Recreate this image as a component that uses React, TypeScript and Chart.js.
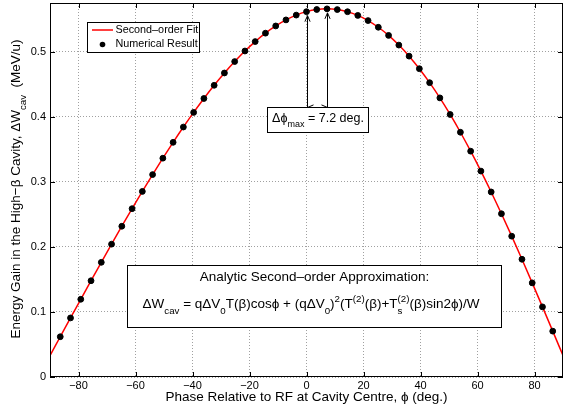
import React, { useEffect, useRef } from "react";
import { Chart, registerables } from "chart.js";

Chart.register(...registerables);

// ---------- data ----------
const phaseDeg = [
  -90, -86.4, -82.8, -79.2, -75.6, -72, -68.4, -64.8, -61.2, -57.6, -54, -50.4, -46.8,
  -43.2, -39.6, -36, -32.4, -28.8, -25.2, -21.6, -18, -14.4, -10.8, -7.2, -3.6, 0,
  3.6, 7.2, 10.8, 14.4, 18, 21.6, 25.2, 28.8, 32.4, 36, 39.6, 43.2, 46.8, 50.4, 54,
  57.6, 61.2, 64.8, 68.4, 72, 75.6, 79.2, 82.8, 86.4, 90,
];
const fitGain = [
  0.033, 0.0619, 0.0908, 0.1195, 0.148, 0.1763, 0.2042, 0.2318, 0.2588, 0.2853, 0.3112,
  0.3364, 0.3608, 0.3843, 0.4068, 0.4282, 0.4485, 0.4674, 0.485, 0.5012, 0.5157, 0.5286,
  0.5397, 0.549, 0.5564, 0.5617, 0.565, 0.566, 0.5649, 0.5616, 0.5559, 0.548, 0.5377,
  0.5252, 0.5103, 0.4933, 0.474, 0.4525, 0.4291, 0.4036, 0.3763, 0.3472, 0.3166, 0.2845,
  0.251, 0.2165, 0.181, 0.1447, 0.1078, 0.0705, 0.033,
];
const numPhase = [
  -86.4, -82.8, -79.2, -75.6, -72, -68.4, -64.8, -61.2, -57.6, -54, -50.4, -46.8, -43.2,
  -39.6, -36, -32.4, -28.8, -25.2, -21.6, -18, -14.4, -10.8, -7.2, -3.6, 0, 3.6, 7.2,
  10.8, 14.4, 18, 21.6, 25.2, 28.8, 32.4, 36, 39.6, 43.2, 46.8, 50.4, 54, 57.6, 61.2,
  64.8, 68.4, 72, 75.6, 79.2, 82.8, 86.4,
];
const numGain = [
  0.0619, 0.0908, 0.1195, 0.148, 0.1763, 0.2042, 0.2318, 0.2588, 0.2853, 0.3112, 0.3364,
  0.3608, 0.3843, 0.4068, 0.4282, 0.4485, 0.4674, 0.485, 0.5012, 0.5157, 0.5286, 0.5397,
  0.549, 0.5564, 0.5617, 0.565, 0.566, 0.5649, 0.5616, 0.5559, 0.548, 0.5377, 0.5252,
  0.5103, 0.4933, 0.474, 0.4525, 0.4291, 0.4036, 0.3763, 0.3472, 0.3166, 0.2845, 0.251,
  0.2165, 0.181, 0.1447, 0.1078, 0.0705,
];
const xTicks = [-80, -60, -40, -20, 0, 20, 40, 60, 80];
const xTickLabels = ["−80", "−60", "−40", "−20", "0", "20", "40", "60", "80"];
const yTicks = [0, 0.1, 0.2, 0.3, 0.4, 0.5];
const yTickLabels = ["0", "0.1", "0.2", "0.3", "0.4", "0.5"];
const arrowPhase = [0, 7.2];
const arrowGain = [0.5617, 0.566];
const legendLabels = ["Second–order Fit", "Numerical Result"];

const FONT = "'Liberation Sans', Arial, Helvetica, sans-serif";

type Seg = [string, "n" | "b" | "p" | "s"]; // normal, sub, sup, stacked "sup|sub"

function segWidth(ctx: CanvasRenderingContext2D, s: Seg, size: number) {
  const small = size * 0.72;
  if (s[1] === "n") {
    ctx.font = `${size}px ${FONT}`;
    return ctx.measureText(s[0]).width;
  }
  ctx.font = `${small}px ${FONT}`;
  if (s[1] === "s") {
    const [a, b] = s[0].split("|");
    return Math.max(ctx.measureText(a).width, ctx.measureText(b).width);
  }
  return ctx.measureText(s[0]).width;
}

function richWidth(ctx: CanvasRenderingContext2D, segs: Seg[], size: number) {
  return segs.reduce((w, s) => w + segWidth(ctx, s, size), 0);
}

function drawRich(ctx: CanvasRenderingContext2D, segs: Seg[], x: number, y: number, size: number) {
  const small = size * 0.72;
  const subDy = size * 0.42;
  const supDy = -size * 0.42;
  ctx.textBaseline = "alphabetic";
  ctx.textAlign = "left";
  let cx = x;
  for (const s of segs) {
    const w = segWidth(ctx, s, size);
    if (s[1] === "n") {
      ctx.font = `${size}px ${FONT}`;
      ctx.fillText(s[0], cx, y);
    } else {
      ctx.font = `${small}px ${FONT}`;
      if (s[1] === "b") ctx.fillText(s[0], cx, y + subDy);
      else if (s[1] === "p") ctx.fillText(s[0], cx, y + supDy);
      else {
        const [a, b] = s[0].split("|");
        ctx.fillText(a, cx, y + supDy);
        ctx.fillText(b, cx, y + subDy);
      }
    }
    cx += w;
  }
}

function arrowHead(ctx: CanvasRenderingContext2D, x: number, y: number, dx: number, dy: number) {
  const len = 6;
  const hw = 2.6;
  const px = -dy;
  const py = dx;
  ctx.beginPath();
  ctx.moveTo(x - dx * len + px * hw, y - dy * len + py * hw);
  ctx.lineTo(x, y);
  ctx.lineTo(x - dx * len - px * hw, y - dy * len - py * hw);
  ctx.stroke();
}

const overlay = {
  id: "overlay",
  afterDraw(chart: any) {
    const ctx: CanvasRenderingContext2D = chart.ctx;
    const { left, right, top, bottom } = chart.chartArea;
    const xs = chart.scales.x;
    const ys = chart.scales.y;
    ctx.save();

    // frame + inward ticks
    ctx.strokeStyle = "#000";
    ctx.lineWidth = 1;
    ctx.strokeRect(left + 0.5, top + 0.5, right - left - 1, bottom - top - 1);
    ctx.beginPath();
    for (const v of xTicks) {
      const px = Math.round(xs.getPixelForValue(v)) + 0.5;
      ctx.moveTo(px, bottom);
      ctx.lineTo(px, bottom - 5);
      ctx.moveTo(px, top);
      ctx.lineTo(px, top + 5);
    }
    for (const v of yTicks) {
      const py = Math.round(ys.getPixelForValue(v)) + 0.5;
      ctx.moveTo(left, py);
      ctx.lineTo(left + 5, py);
      ctx.moveTo(right, py);
      ctx.lineTo(right - 5, py);
    }
    ctx.stroke();

    // legend
    const lx = 87.5, ly = 22.5, lw = 112, lh = 30;
    ctx.fillStyle = "#fff";
    ctx.fillRect(lx, ly, lw, lh);
    ctx.strokeRect(lx, ly, lw, lh);
    ctx.strokeStyle = "#ff0000";
    ctx.lineWidth = 1.5;
    ctx.beginPath();
    ctx.moveTo(92, 30);
    ctx.lineTo(113, 30);
    ctx.stroke();
    ctx.fillStyle = "#000";
    ctx.beginPath();
    ctx.arc(102.5, 44.5, 2.8, 0, Math.PI * 2);
    ctx.fill();
    ctx.font = `10.8px ${FONT}`;
    ctx.textBaseline = "middle";
    ctx.textAlign = "left";
    ctx.fillText(legendLabels[0], 115.5, 30.5);
    ctx.fillText(legendLabels[1], 115.5, 44.5);

    // delta-phi arrows
    ctx.strokeStyle = "#000";
    ctx.lineWidth = 1;
    const boxTop = 107.5;
    const ax0 = Math.round(xs.getPixelForValue(arrowPhase[0])) + 0.5;
    const ax1 = Math.round(xs.getPixelForValue(arrowPhase[1])) + 0.5;
    const tip0 = ys.getPixelForValue(arrowGain[0]) + 4;
    const tip1 = ys.getPixelForValue(arrowGain[1]) + 4;
    ctx.beginPath();
    ctx.moveTo(ax0, boxTop);
    ctx.lineTo(ax0, tip0);
    ctx.moveTo(ax1, boxTop);
    ctx.lineTo(ax1, tip1);
    ctx.moveTo(ax0, boxTop);
    ctx.lineTo(ax1, boxTop);
    ctx.stroke();
    arrowHead(ctx, ax0, tip0, 0, -1);
    arrowHead(ctx, ax1, tip1, 0, -1);
    arrowHead(ctx, ax0, boxTop, -1, 0);
    arrowHead(ctx, ax1, boxTop, 1, 0);

    // delta-phi box
    ctx.fillStyle = "#fff";
    ctx.fillRect(267.5, boxTop, 101, 25);
    ctx.strokeRect(267.5, boxTop, 101, 25);
    ctx.fillStyle = "#000";
    const dSegs: Seg[] = [["Δϕ", "n"], ["max", "b"], [" = 7.2 deg.", "n"]];
    const dw = richWidth(ctx, dSegs, 12.5);
    drawRich(ctx, dSegs, 318 - dw / 2, 122, 12.5);

    // formula box
    ctx.fillStyle = "#fff";
    ctx.fillRect(127.5, 265.5, 374, 62);
    ctx.strokeRect(127.5, 265.5, 374, 62);
    ctx.fillStyle = "#000";
    const t1: Seg[] = [["Analytic Second–order Approximation:", "n"]];
    const w1 = richWidth(ctx, t1, 13.5);
    drawRich(ctx, t1, 314.5 - w1 / 2, 281, 13.5);
    const t2: Seg[] = [
      ["ΔW", "n"], ["cav", "b"], [" = qΔV", "n"], ["0", "b"], ["T(β)cosϕ + (qΔV", "n"], ["0", "b"],
      [")", "n"], ["2", "p"], ["(T", "n"], ["(2)", "p"], ["(β)+T", "n"], ["(2)|s", "s"],
      ["(β)sin2ϕ)/W", "n"],
    ];
    const w2 = richWidth(ctx, t2, 13.5);
    drawRich(ctx, t2, 311 - w2 / 2, 308, 13.5);

    // axis titles
    const xt: Seg[] = [["Phase Relative to RF at Cavity Centre, ϕ (deg.)", "n"]];
    const xw = richWidth(ctx, xt, 13.5);
    drawRich(ctx, xt, (left + right) / 2 - xw / 2, 401, 13.5);

    const yt: Seg[] = [["Energy Gain in the High−β Cavity, ΔW", "n"], ["cav", "b"], ["  (MeV/u)", "n"]];
    const yw = richWidth(ctx, yt, 13.5);
    ctx.translate(20, (top + bottom) / 2 - 1);
    ctx.rotate(-Math.PI / 2);
    drawRich(ctx, yt, -yw / 2, 0, 13.5);

    ctx.restore();
  },
};

export default function App() {
  const ref = useRef<HTMLCanvasElement>(null);
  useEffect(() => {
    if (!ref.current) return;
    const chart = new Chart(ref.current, {
      type: "scatter",
      data: {
        datasets: [
          {
            type: "scatter",
            label: legendLabels[1],
            data: numPhase.map((x, i) => ({ x, y: numGain[i] })),
            backgroundColor: "#000",
            borderColor: "#000",
            pointRadius: 2.9,
            pointHoverRadius: 2.9,
            order: 0,
          },
          {
            type: "line",
            label: legendLabels[0],
            data: phaseDeg.map((x, i) => ({ x, y: fitGain[i] })),
            borderColor: "#ff0000",
            borderWidth: 1.5,
            pointRadius: 0,
            cubicInterpolationMode: "monotone",
            fill: false,
            order: 1,
          } as any,
        ],
      },
      options: {
        animation: false,
        responsive: false,
        devicePixelRatio: 1,
        layout: { autoPadding: false, padding: { top: 3, right: 1, left: 0, bottom: 0 } },
        plugins: { legend: { display: false }, tooltip: { enabled: false } },
        scales: {
          x: {
            type: "linear",
            min: -90,
            max: 90,
            afterBuildTicks: (s: any) => {
              s.ticks = xTicks.map((value) => ({ value }));
            },
            afterFit: (s: any) => {
              s.height = 34;
              s.paddingLeft = 0;
              s.paddingRight = 0;
            },
            ticks: {
              padding: 2,
              color: "#000",
              font: { family: FONT, size: 11 },
              maxRotation: 0,
              autoSkip: false,
              callback: (_v: any, i: number) => xTickLabels[i],
            },
            grid: { color: "#a0a0a0", drawTicks: false },
            border: { display: false, dash: [1, 2] },
          },
          y: {
            type: "linear",
            min: 0,
            max: 0.575,
            afterBuildTicks: (s: any) => {
              s.ticks = yTicks.map((value) => ({ value }));
            },
            afterFit: (s: any) => {
              s.width = 50;
              s.paddingTop = 0;
              s.paddingBottom = 0;
            },
            ticks: {
              padding: 4,
              color: "#000",
              font: { family: FONT, size: 11 },
              autoSkip: false,
              callback: (_v: any, i: number) => yTickLabels[i],
            },
            grid: { color: "#a0a0a0", drawTicks: false },
            border: { display: false, dash: [1, 2] },
          },
        },
      },
      plugins: [overlay],
    });
    return () => chart.destroy();
  }, []);
  return (
    <div style={{ position: "absolute", left: 0, top: 0, width: 564, height: 411, background: "#fff" }}>
      <canvas ref={ref} width={564} height={411} style={{ width: 564, height: 411 }} />
    </div>
  );
}
